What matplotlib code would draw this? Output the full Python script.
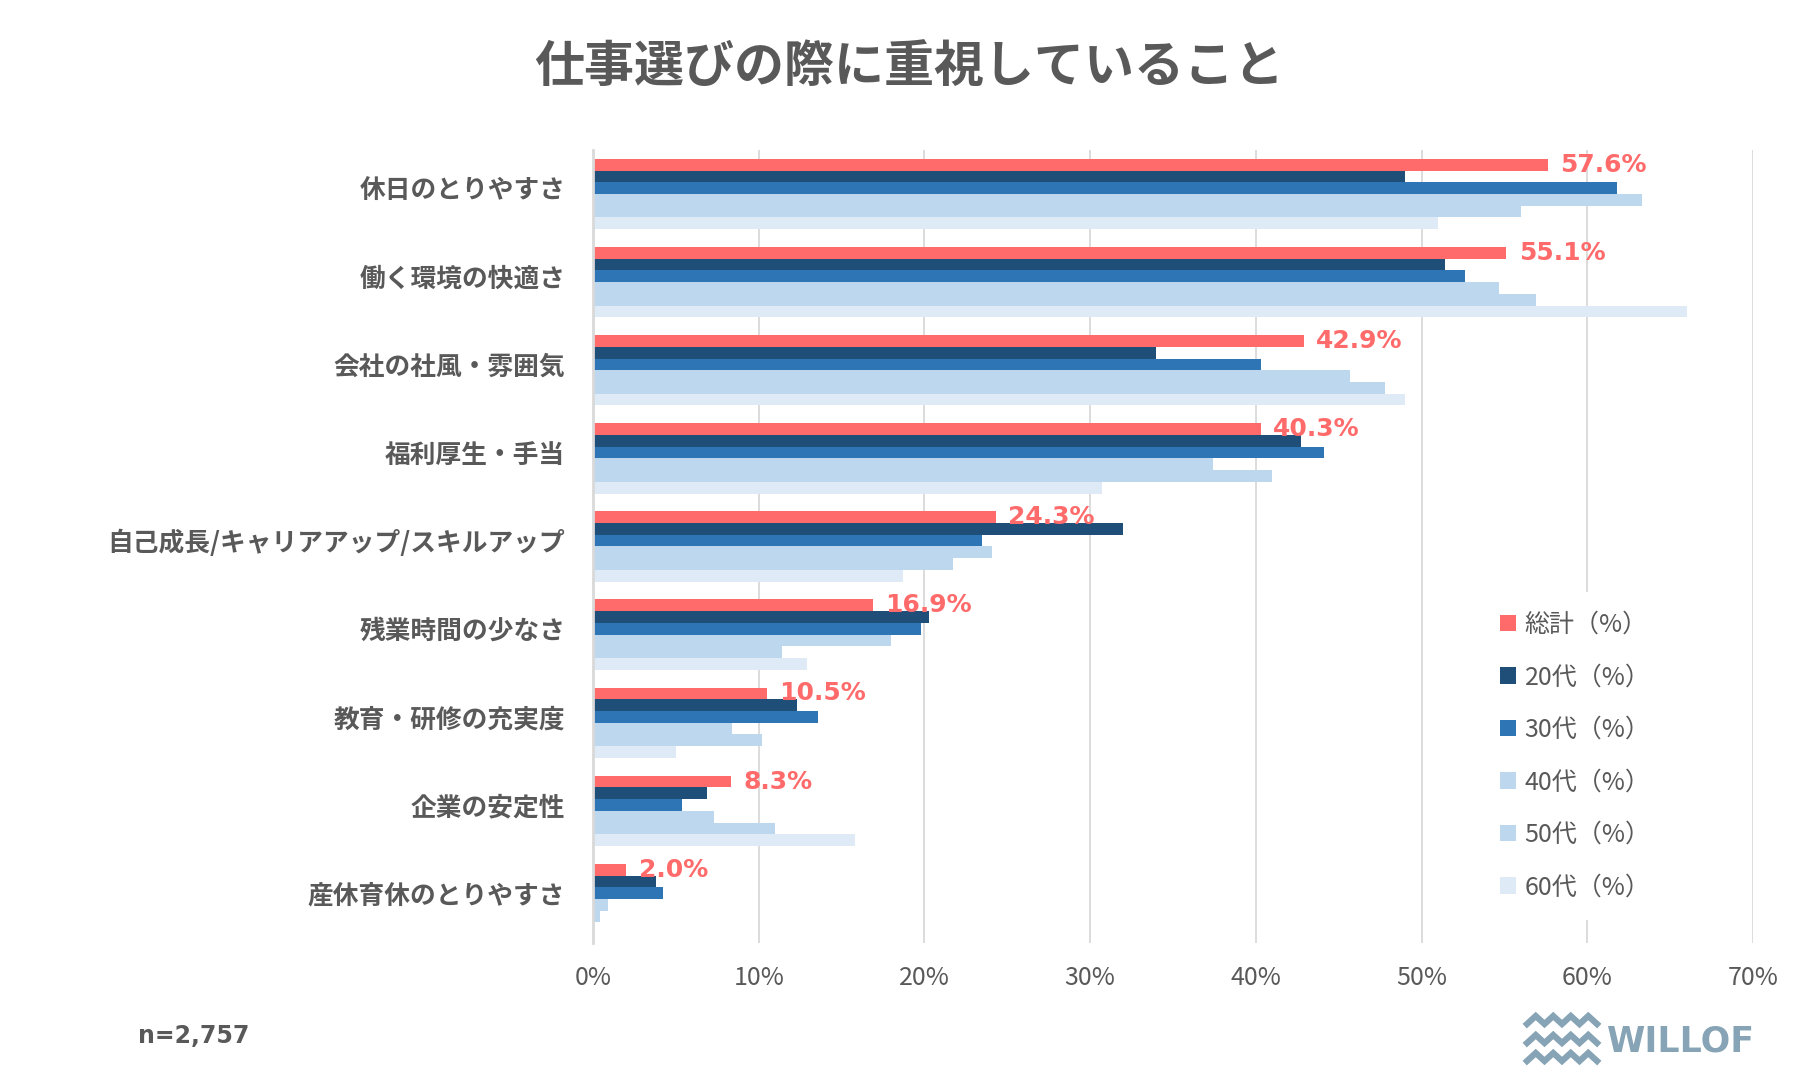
import matplotlib
matplotlib.use("Agg")
import matplotlib.pyplot as plt
import numpy as np
from matplotlib.lines import Line2D
from matplotlib.transforms import ScaledTranslation

plt.rcParams['font.family'] = ['Noto Sans CJK JP', 'DejaVu Sans']

categories = ["休日のとりやすさ", "働く環境の快適さ", "会社の社風・雰囲気", "福利厚生・手当",
              "自己成長/キャリアアップ/スキルアップ", "残業時間の少なさ", "教育・研修の充実度",
              "企業の安定性", "産休育休のとりやすさ"]
series_names = ["総計（%）", "20代（%）", "30代（%）", "40代（%）", "50代（%）", "60代（%）"]
total = [57.6, 55.1, 42.9, 40.3, 24.3, 16.9, 10.5, 8.3, 2.0]
age20 = [49.0, 51.4, 34.0, 42.7, 32.0, 20.3, 12.3, 6.9, 3.8]
age30 = [61.8, 52.6, 40.3, 44.1, 23.5, 19.8, 13.6, 5.4, 4.2]
age40 = [63.3, 54.7, 45.7, 37.4, 24.1, 18.0, 8.4, 7.3, 0.9]
age50 = [56.0, 56.9, 47.8, 41.0, 21.7, 11.4, 10.2, 11.0, 0.4]
age60 = [51.0, 66.0, 49.0, 30.7, 18.7, 12.9, 5.0, 15.8, 0.0]
xticks = [0, 10, 20, 30, 40, 50, 60, 70]
xtick_labels = ["0%", "10%", "20%", "30%", "40%", "50%", "60%", "70%"]

colors = ["#FF6B6B", "#1F4E79", "#2E75B6", "#BDD7EE", "#BDD7EE", "#DEEBF7"]
gray = "#595959"

W, H = 1818, 1080
fig = plt.figure(figsize=(W / 100, H / 100), dpi=100)
ax = fig.add_axes([593 / W, 1 - 943 / H, (1753 - 593) / W, (943 - 150) / H])

all_series = [total, age20, age30, age40, age50, age60]
y = np.arange(len(categories))
h = 0.133
handles = []
for i, (vals, c) in enumerate(zip(all_series, colors)):
    b = ax.barh(y + (i - 2.5) * h, vals, height=h, color=c, label=series_names[i], zorder=2)
    handles.append(b)

for yi, v in zip(y, total):
    ax.annotate(f"{v:.1f}%", (v, yi - 2.5 * h), xytext=(9, 0), textcoords="offset points",
                va="center", ha="left", color="#FF6B6B", fontsize=18, fontweight="bold",
                family="DejaVu Sans")

ax.set_xlim(0, 70)
ax.set_ylim(len(categories) - 0.5, -0.5)
ax.set_xticks(xticks)
ax.set_xticklabels(xtick_labels)
ax.set_yticks(y)
ax.set_yticklabels(categories, fontsize=18.5, fontweight="bold", color=gray)
ax.tick_params(axis="y", length=0, pad=20)
ax.tick_params(axis="x", length=0, pad=16, labelsize=18, labelcolor=gray)
shift = ScaledTranslation(0, 6 / 100, fig.dpi_scale_trans)
for tick in ax.yaxis.get_major_ticks():
    tick.label1.set_transform(tick.label1.get_transform() + shift)
ax.set_axisbelow(True)
ax.xaxis.grid(True, color="#D9D9D9", lw=1.3)
for s in ["top", "right", "bottom"]:
    ax.spines[s].set_visible(False)
ax.spines["left"].set_color("#D9D9D9")
ax.spines["left"].set_linewidth(2)

leg = ax.legend(handles=handles, loc="center left", bbox_to_anchor=(1467 / W, 1 - 756 / H),
                bbox_transform=fig.transFigure, frameon=True, facecolor="white", edgecolor="none",
                framealpha=1, fontsize=18, handlelength=0.65, handleheight=0.65,
                handletextpad=0.35, labelspacing=1.06, labelcolor=gray, borderpad=0.8)
leg.set_zorder(5)

fig.text(909 / W, 1 - 68 / H, "仕事選びの際に重視していること", ha="center", va="center",
         fontsize=36, fontweight="bold", color=gray)
fig.text(138 / W, 1 - 1036 / H, "n=2,757", ha="left", va="center", fontsize=17,
         fontweight="bold", color=gray, family="DejaVu Sans")

# logo
logo_c = "#86A4B5"
for yc in [1020, 1039, 1057]:
    xs = np.linspace(1527, 1597, 9)
    ys = [yc - 4 if k % 2 else yc + 4 for k in range(9)]
    fig.add_artist(Line2D(xs / W, 1 - np.array(ys) / H, transform=fig.transFigure,
                          color=logo_c, lw=4.5, solid_joinstyle="miter"))
fig.text(1607 / W, 1 - 1041 / H, "WILLOF", ha="left", va="center", fontsize=25,
         fontweight="bold", color=logo_c, family="DejaVu Sans")

fig.savefig("out.png", dpi=100, facecolor="white")
